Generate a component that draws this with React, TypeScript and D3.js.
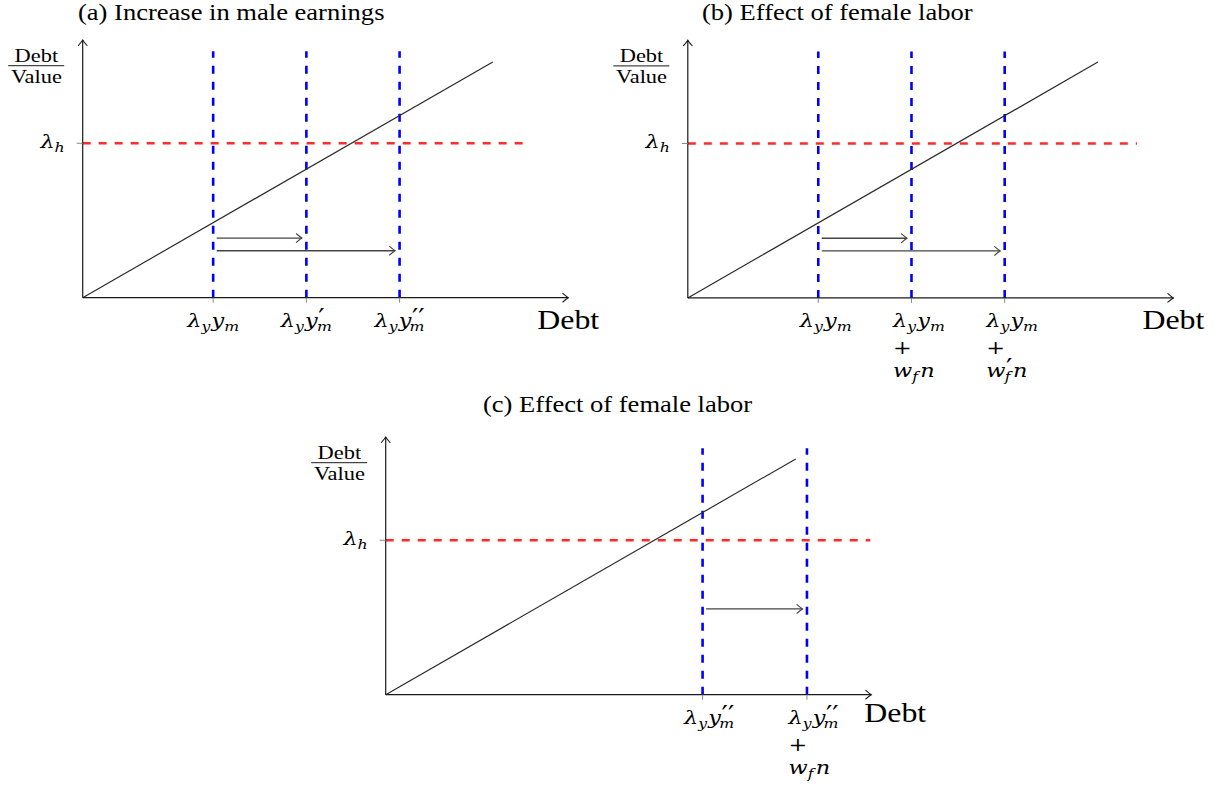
import React from "react";
import * as d3 from "d3";

// Shared geometry: one data unit is drawn as the same length on both axes.
const UNIT = 93.2;
const X_EXTENT = 5.21;
const Y_EXTENT = 2.765;

const FONT = "'Liberation Serif', 'Times New Roman', serif";
const MATH_FONT = "'DejaVu Serif', serif";
const STRETCH = 1.18;
const MATH_SIZE = 19;

// Panel titles
const titles = [
  "(a) Increase in male earnings",
  "(b) Effect of female labor",
  "(c) Effect of female labor",
];

// Threshold debt-to-value ratio and the debt/value ray
const lambdaH = 1.657;
const debtRatioLine: [number, number][] = [
  [0, 0],
  [4.4, 2.53],
];
const blueTop = 2.645;

// Borrowing limits (positions on the Debt axis)
const ticksA = [1.4, 2.4, 3.4];
const ticksB = [1.4, 2.4, 3.4];
const ticksC = [3.4, 4.52];

// Right end of the λ_h line in each panel
const redEnds = [4.8, 4.82, 5.2];

// Shifts of the borrowing limit
const shiftsA = [
  { y: 0.64, from: 1.4, to: 2.4 },
  { y: 0.504, from: 1.4, to: 3.4 },
];
const shiftsB = [
  { y: 0.64, from: 1.4, to: 2.4 },
  { y: 0.504, from: 1.4, to: 3.4 },
];
const shiftsC = [{ y: 0.92, from: 3.4, to: 4.52 }];

// Math labels as token lists
type Tok = { t: string; k?: "sub" | "sup" | "under"; it?: boolean; gap?: number };
const lamY: Tok[] = [
  { t: "λ", it: true },
  { t: "y", k: "sub", it: true },
  { t: "y", it: true, gap: 1 },
];
const ym: Tok[] = [...lamY, { t: "m", k: "sub", it: true }];
const ymP: Tok[] = [...lamY, { t: "′", k: "sup" }, { t: "m", k: "under", it: true }];
const ymPP: Tok[] = [...lamY, { t: "′′", k: "sup" }, { t: "m", k: "under", it: true }];
const plus: Tok[] = [{ t: "+" }];
const wfn: Tok[] = [
  { t: "w", it: true },
  { t: "f", k: "sub", it: true },
  { t: "n", it: true, gap: 2 },
];
const wPfn: Tok[] = [
  { t: "w", it: true },
  { t: "′", k: "sup" },
  { t: "f", k: "under", it: true },
  { t: "n", it: true, gap: 2 },
];
const lamH: Tok[] = [
  { t: "λ", it: true },
  { t: "h", k: "sub", it: true },
];

const labelsA: Tok[][][] = [[ym], [ymP], [ymPP]];
const labelsB: Tok[][][] = [[ym], [ym, plus, wfn], [ym, plus, wPfn]];
const labelsC: Tok[][][] = [[ymPP], [ymPP, plus, wfn]];

function Tokens({ toks, fs }: { toks: Tok[]; fs: number }) {
  let shift = 0;
  let supW = 0;
  return (
    <>
      {toks.map((tk, i) => {
        const size = tk.k === "sup" ? fs * 1.25 : tk.k ? fs * 0.7 : fs;
        const target = tk.k === "sup" ? -0.05 * fs : tk.k ? 0.22 * fs : 0;
        const dy = target - shift;
        shift = target;
        let dx = tk.gap || 0;
        if (tk.k === "under") dx = -supW;
        if (tk.k === "sup") {
          supW = tk.t.length * 0.27 * size;
          dx = 0.5;
        }
        return (
          <tspan
            key={i}
            dx={dx || undefined}
            dy={dy || undefined}
            fontSize={size}
            fontStyle={tk.it ? "italic" : "normal"}
          >
            {tk.t}
          </tspan>
        );
      })}
    </>
  );
}

function SText({
  x,
  y,
  anchor = "start",
  size,
  family = FONT,
  children,
}: {
  x: number;
  y: number;
  anchor?: "start" | "middle" | "end";
  size: number;
  family?: string;
  children: React.ReactNode;
}) {
  return (
    <g transform={`translate(${x},${y}) scale(${STRETCH},1)`}>
      <text x={0} y={0} textAnchor={anchor} fontSize={size} fontFamily={family} fill="#000">
        {children}
      </text>
    </g>
  );
}

function arrowHead(x: number, y: number, angle: number, color: string) {
  return (
    <path
      d="M-5.5,-4.3 Q-1.6,-0.9 0,0 Q-1.6,0.9 -5.5,4.3"
      transform={`translate(${x},${y}) rotate(${angle})`}
      fill="none"
      stroke={color}
      strokeWidth={1.1}
      strokeLinecap="round"
    />
  );
}

type Shift = { y: number; from: number; to: number };

function Panel({
  ox,
  oy,
  ticks,
  labels,
  align,
  redEnd,
  shifts,
  debtLeft,
}: {
  ox: number;
  oy: number;
  ticks: number[];
  labels: Tok[][][];
  align: "center" | "left";
  redEnd: number;
  shifts: Shift[];
  debtLeft: boolean;
}) {
  const x = d3.scaleLinear().domain([0, X_EXTENT]).range([ox, ox + X_EXTENT * UNIT]);
  const y = d3.scaleLinear().domain([0, Y_EXTENT]).range([oy, oy - Y_EXTENT * UNIT]);
  const line = d3
    .line<[number, number]>()
    .x((d) => x(d[0]))
    .y((d) => y(d[1]));

  const axisColor = "#1a1a1a";
  const rowOffsets = [29, 56, 79];

  return (
    <g>
      {/* λ_h threshold */}
      <line
        x1={x(0)}
        x2={x(redEnd)}
        y1={y(lambdaH)}
        y2={y(lambdaH)}
        stroke="#ff2b2b"
        strokeWidth={2.4}
        strokeDasharray="8 8"
      />
      {/* borrowing limits */}
      {ticks.map((t, i) => (
        <line
          key={`b${i}`}
          x1={x(t)}
          x2={x(t)}
          y1={y(0)}
          y2={y(blueTop)}
          stroke="#0000ff"
          strokeWidth={2.6}
          strokeDasharray="8 8"
        />
      ))}
      {/* debt / value ray */}
      <path d={line(debtRatioLine) || ""} fill="none" stroke="#2b2b2b" strokeWidth={1.2} />
      {/* shift arrows */}
      {shifts.map((s, i) => (
        <g key={`s${i}`}>
          <line
            x1={x(s.from) + 3.5}
            x2={x(s.to) - 4.5}
            y1={y(s.y)}
            y2={y(s.y)}
            stroke="#444"
            strokeWidth={1.3}
          />
          {arrowHead(x(s.to) - 4.5, y(s.y), 0, "#444")}
        </g>
      ))}
      {/* axes */}
      <line x1={x(0)} x2={x(X_EXTENT)} y1={y(0)} y2={y(0)} stroke={axisColor} strokeWidth={1.2} />
      <line x1={x(0)} x2={x(0)} y1={y(0)} y2={y(Y_EXTENT)} stroke={axisColor} strokeWidth={1.2} />
      {arrowHead(x(X_EXTENT), y(0), 0, axisColor)}
      {arrowHead(x(0), y(Y_EXTENT), -90, axisColor)}
      {/* tick marks */}
      {ticks.map((t, i) => (
        <line key={`t${i}`} x1={x(t)} x2={x(t)} y1={y(0)} y2={y(0) + 5} stroke="#888" strokeWidth={1} />
      ))}
      <line x1={x(0) - 6} x2={x(0)} y1={y(lambdaH)} y2={y(lambdaH)} stroke="#888" strokeWidth={1} />
      {/* tick labels */}
      {ticks.map((t, i) =>
        labels[i].map((row, r) => (
          <SText
            key={`l${i}-${r}`}
            x={align === "center" ? x(t) : x(t) - 18.5}
            y={y(0) + rowOffsets[r]}
            anchor={align === "center" ? "middle" : "start"}
            size={MATH_SIZE}
            family={MATH_FONT}
          >
            <Tokens toks={row} fs={MATH_SIZE} />
          </SText>
        ))
      )}
      <SText x={x(0) - 18} y={y(lambdaH) + 4.5} anchor="end" size={MATH_SIZE} family={MATH_FONT}>
        <Tokens toks={lamH} fs={MATH_SIZE} />
      </SText>
      {/* axis titles */}
      <SText
        x={debtLeft ? x(X_EXTENT) - 7 : x(X_EXTENT)}
        y={y(0) + (debtLeft ? 27 : 31)}
        anchor={debtLeft ? "start" : "middle"}
        size={27}
      >
        Debt
      </SText>
      <SText x={x(0) - 46.3} y={oy - 235.8} anchor="middle" size={19}>
        Debt
      </SText>
      <line x1={x(0) - 74.5} x2={x(0) - 18.5} y1={oy - 232} y2={oy - 232} stroke="#000" strokeWidth={0.9} />
      <SText x={x(0) - 46.3} y={oy - 214.5} anchor="middle" size={19}>
        Value
      </SText>
    </g>
  );
}

export default function App() {
  return (
    <svg
      width={1219}
      height={787}
      style={{ position: "absolute", left: 0, top: 0, background: "#fff" }}
    >
      <SText x={78} y={20} size={22.5}>
        {titles[0]}
      </SText>
      <SText x={702} y={20} size={22.5}>
        {titles[1]}
      </SText>
      <SText x={483} y={412} size={22.5}>
        {titles[2]}
      </SText>
      <Panel
        ox={82.7}
        oy={297.7}
        ticks={ticksA}
        labels={labelsA}
        align="center"
        redEnd={redEnds[0]}
        shifts={shiftsA}
        debtLeft={false}
      />
      <Panel
        ox={687.8}
        oy={297.9}
        ticks={ticksB}
        labels={labelsB}
        align="left"
        redEnd={redEnds[1]}
        shifts={shiftsB}
        debtLeft={false}
      />
      <Panel
        ox={385.7}
        oy={694.7}
        ticks={ticksC}
        labels={labelsC}
        align="left"
        redEnd={redEnds[2]}
        shifts={shiftsC}
        debtLeft={true}
      />
    </svg>
  );
}
